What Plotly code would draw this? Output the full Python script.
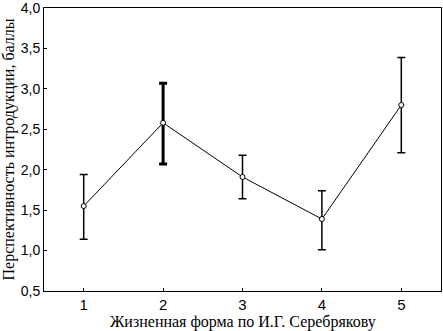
import plotly.graph_objects as go

categories = [1, 2, 3, 4, 5]
means = [1.55, 2.58, 1.91, 1.39, 2.80]
upper = [1.94, 3.07, 2.18, 1.74, 3.39]
lower = [1.14, 2.07, 1.64, 1.01, 2.21]
y_ticks = [0.5, 1.0, 1.5, 2.0, 2.5, 3.0, 3.5, 4.0]

err_plus = [u - m for u, m in zip(upper, means)]
err_minus = [m - l for m, l in zip(means, lower)]

fig = go.Figure()
for c, m, ep, em in zip(categories, means, err_plus, err_minus):
    fig.add_trace(go.Scatter(
        x=[c], y=[m], mode="markers",
        marker=dict(size=1, color="rgba(0,0,0,0)"),
        error_y=dict(type="data", symmetric=False, array=[ep], arrayminus=[em],
                     color="black", thickness=3 if c == 2 else 1.5, width=4),
        showlegend=False, hoverinfo="skip"))

fig.add_trace(go.Scatter(
    x=categories, y=means, mode="lines+markers",
    line=dict(color="black", width=1),
    marker=dict(symbol="circle", size=5, color="white", line=dict(color="black", width=1)),
    showlegend=False))

fig.update_layout(
    width=443, height=331,
    margin=dict(l=44, r=2, t=8, b=40, autoexpand=False),
    paper_bgcolor="white", plot_bgcolor="white",
    separators=", ",
    font=dict(family="Liberation Sans, Arial", color="black", size=14),
    annotations=[
        dict(text="Жизненная форма по И.Г. Серебрякову", xref="paper", yref="paper",
             x=0.5, y=0, yshift=-31, xanchor="center", yanchor="middle", showarrow=False,
             font=dict(family="Liberation Serif, Times New Roman", size=16)),
        dict(text="Перспективность интродукции, баллы", xref="paper", yref="paper",
             x=0, y=0.5, xshift=-36, xanchor="center", yanchor="middle", showarrow=False,
             textangle=-90,
             font=dict(family="Liberation Serif, Times New Roman", size=16)),
    ],
)
fig.update_xaxes(
    range=[0.5, 5.5], tickvals=categories, ticktext=[str(c) for c in categories],
    showline=True, linecolor="black", linewidth=1, mirror=True, automargin=False,
    ticks="inside", ticklen=3, tickcolor="black", showgrid=False, zeroline=False,
    tickfont=dict(size=15, family="Liberation Sans, Arial"),
)
fig.update_yaxes(
    range=[0.499, 4.001], tickvals=y_ticks, tickformat=".1f", automargin=False,
    ticklabeloverflow="allow",
    showline=True, linecolor="black", linewidth=1, mirror=True,
    ticks="inside", ticklen=3, tickcolor="black", showgrid=False, zeroline=False,
    tickfont=dict(size=14, family="Liberation Sans, Arial"),
)

fig.write_html("out.html", config={"displayModeBar": False},
               post_script="document.body.style.margin='0px';")
